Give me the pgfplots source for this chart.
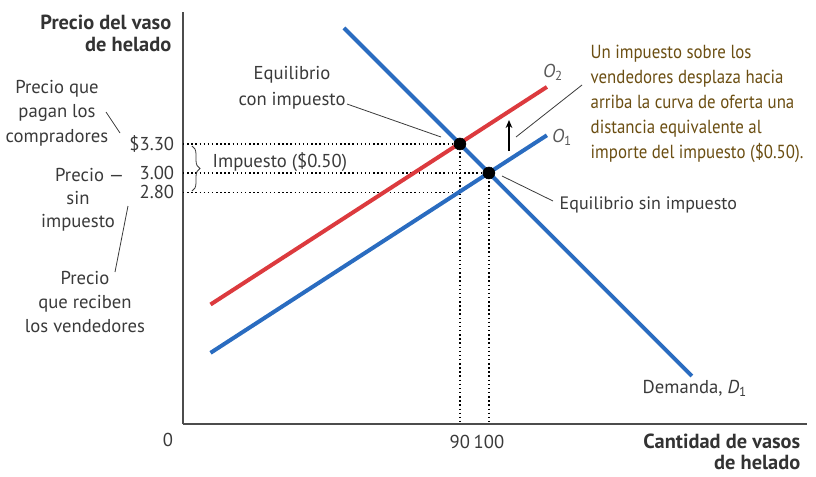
\documentclass[border=0pt]{standalone}
\usepackage{fontspec}
\setmainfont{PT Sans}
\newfontfamily\notefont[FakeStretch=0.89]{PT Sans}
\usepackage{pgfplots}
\pgfplotsset{compat=1.18}
\usetikzlibrary{arrows.meta,decorations.pathreplacing}
\definecolor{sblue}{HTML}{2A6CC0}
\definecolor{sred}{HTML}{DC3A3E}
\definecolor{note}{HTML}{6B4E12}
\definecolor{txt}{HTML}{3A3A3A}
\newcommand{\pp}[2]{({((#1)-183)*0.75pt},{(424-(#2))*0.75pt})}
\newcommand{\fs}[1]{\fontsize{14}{#1}\selectfont}
\newcommand{\bfs}[1]{\fontsize{15.3}{#1}\selectfont\bfseries}
\begin{document}
\begin{tikzpicture}[font=\fs{17}, text=txt]
\path[use as bounding box] \pp{0}{476} rectangle \pp{816}{0};
\begin{axis}[
  at={(0,0)}, anchor=south west,
  scale only axis, width=468pt, height=309pt,
  xmin=-5.5, xmax=209.7, ymin=0.404, ymax=4.665,
  axis lines=left,
  axis line style={-, line width=1pt, draw=black!70},
  xtick={90,100}, xticklabels={90,100},
  ytick={2.80,3.00,3.30}, yticklabels={2.80,3.00,\$3.30},
  tick style={draw=none},
  xticklabel style={font=\fs{17}, text=txt, yshift=-3pt},
  yticklabel style={font=\fs{17}, text=txt, xshift=-1pt},
  clip=false,
]
% dotted guide lines
\addplot[dotted, line width=1.1pt, black] coordinates {(-5.5,3.30) (90,3.30) (90,0.404)};
\addplot[dotted, line width=1.1pt, black] coordinates {(-5.5,3.00) (100,3.00) (100,0.404)};
\addplot[dotted, line width=1.1pt, black] coordinates {(-5.5,2.80) (90,2.80)};
% curves
\addplot[sred, line width=3pt] coordinates {(4,1.64) (120,3.89)};
\addplot[sblue, line width=3pt] coordinates {(4,1.14) (120,3.39)};
\addplot[sblue, line width=3pt] coordinates {(50,4.50) (170,0.90)};
% equilibria
\addplot[only marks, mark=*, mark size=4.5pt, black] coordinates {(90,3.30) (100,3.00)};
\end{axis}
% axis titles
\node[anchor=east, align=right, font=\bfs{16.5}, text=black!80] at \pp{176}{33} {Precio del vaso\\de helado};
\node[anchor=north east, align=right, font=\bfs{16}, text=black!80] at \pp{805}{429} {Cantidad de vasos\\de helado};
\node at \pp{168}{440} {0};
% left annotations
\node[align=center, font=\fs{18.5}] at \pp{57}{113} {Precio que\\pagan los\\compradores};
\draw[line width=0.6pt, txt] \pp{106}{112} -- \pp{120}{133};
\node[anchor=east] at \pp{129}{175} {Precio —};
\node[align=center, font=\fs{17}] at \pp{78}{211} {sin\\impuesto};
\draw[line width=0.6pt, txt] \pp{128}{206} -- \pp{115}{272};
\node[align=center, font=\fs{18}] at \pp{85}{302} {Precio\\que reciben\\los vendedores};
% brace
\draw[line width=0.6pt, txt, decorate, decoration={brace, amplitude=6pt}] \pp{192}{146} -- \pp{192}{191};
\node[anchor=west] at \pp{208}{162} {Impuesto (\$0.50)};
% equilibrium labels
\node[align=center, font=\fs{19.5}] at \pp{292}{88} {Equilibrio\\con impuesto};
\draw[line width=0.6pt, txt] \pp{347}{104} -- \pp{441}{137};
\node[anchor=west, font=\fontsize{13.5}{17}\selectfont] at \pp{555}{205} {Equilibrio sin impuesto};
\draw[line width=0.6pt, txt] \pp{502}{176} -- \pp{553}{201};
% supply labels
\node[text=black!65] at \pp{553}{72} {\textit{O}\textsubscript{2}};
\node[text=black!65] at \pp{562}{137} {\textit{O}\textsubscript{1}};
\node[anchor=west] at \pp{638}{388} {Demanda, \textit{D}\textsubscript{1}};
% shift arrow
\draw[line width=0.9pt, black, -{Stealth[length=6pt,width=5pt]}] \pp{509}{151} -- \pp{509}{120};
\draw[line width=0.6pt, txt] \pp{516}{137} -- \pp{582}{85};
\node[anchor=north west, align=left, text=note, font=\notefont\fontsize{14.2}{18.75}\selectfont] at \pp{586}{40}
  {Un impuesto sobre los\\vendedores desplaza hacia\\arriba la curva de oferta una\\distancia equivalente al\\importe del impuesto (\$0.50).};
\end{tikzpicture}
\end{document}
